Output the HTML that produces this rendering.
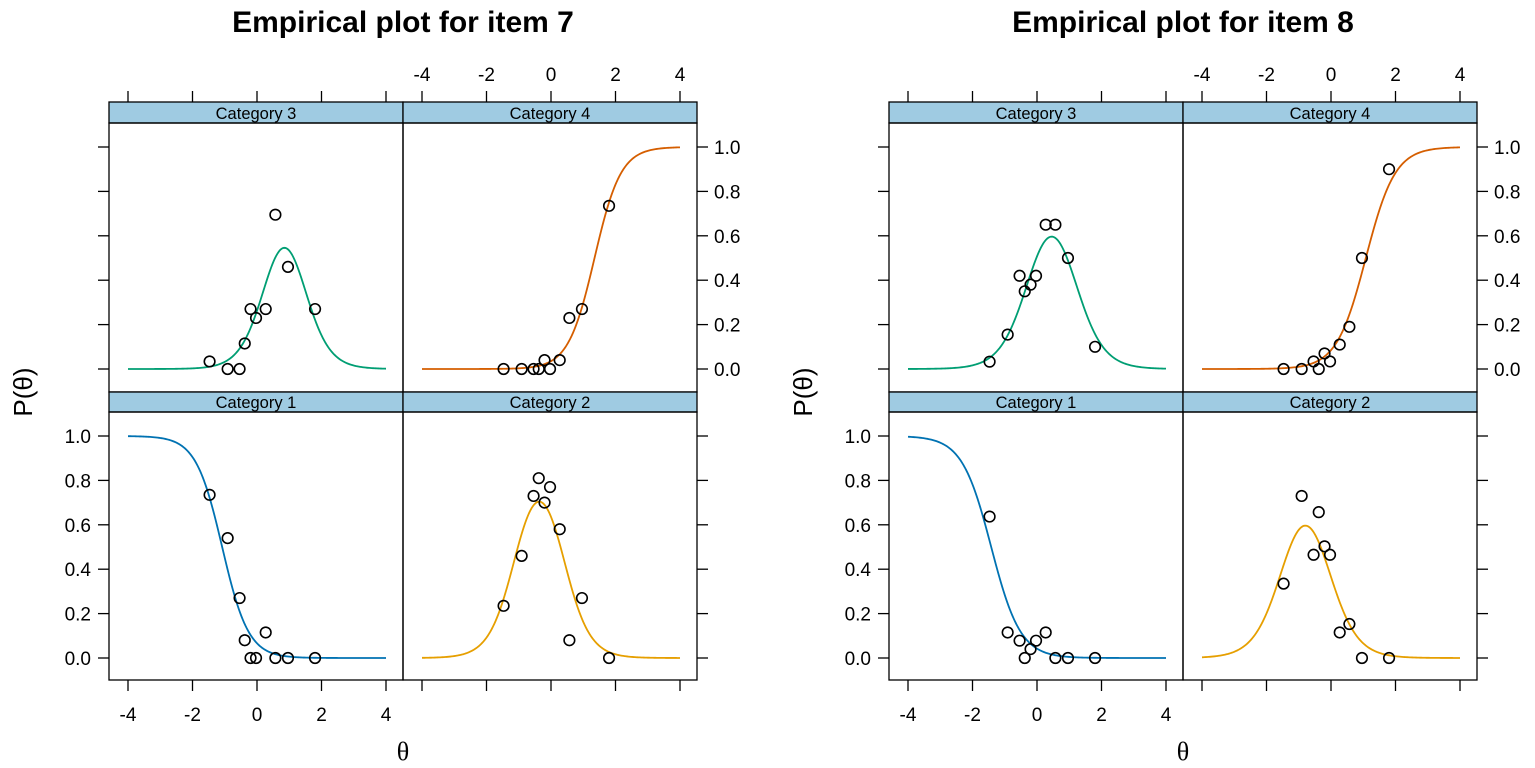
<!DOCTYPE html>
<html><head><meta charset="utf-8"><style>
html,body{margin:0;padding:0;background:#fff;}
svg{display:block;font-family:"Liberation Sans",Arial,sans-serif;}
</style></head><body>
<svg id="fig" width="1535" height="768" viewBox="0 0 1535 768" xmlns="http://www.w3.org/2000/svg"></svg>
<script>
const thetas = [-1.47,-0.91,-0.54,-0.38,-0.2,-0.03,0.27,0.57,0.96,1.8];
const item7Cat1 = [0.735,0.54,0.27,0.08,0,0,0.115,0,0,0];
const item7Cat2 = [0.235,0.46,0.73,0.81,0.70,0.77,0.58,0.08,0.27,0];
const item7Cat3 = [0.034,0,0,0.115,0.27,0.23,0.27,0.695,0.46,0.27];
const item7Cat4 = [0,0,0,0,0.04,0,0.04,0.23,0.27,0.735];
const item8Cat1 = [0.637,0.115,0.078,0,0.04,0.078,0.115,0,0,0];
const item8Cat2 = [0.335,0.73,0.465,0.657,0.503,0.465,0.115,0.153,0,0];
const item8Cat3 = [0.033,0.155,0.42,0.35,0.38,0.42,0.65,0.65,0.5,0.1];
const item8Cat4 = [0,0,0.034,0,0.07,0.034,0.11,0.19,0.5,0.9];
const item7Thresholds = [-1.08,0.35,1.35];
const item8Thresholds = [-1.42,-0.17,1.08];
const item7Slope = 2.45;
const item8Slope = 2.2;
const xTicks = [-4,-2,0,2,4];
const yTicks = [0,0.2,0.4,0.6,0.8,1.0];

const NS="http://www.w3.org/2000/svg";
const svg=document.getElementById('fig');
const colors={1:'#0072B2',2:'#E69F00',3:'#009E73',4:'#D55E00'};
function mk(tag,attrs,parent){const e=document.createElementNS(NS,tag);for(const k in attrs)e.setAttribute(k,attrs[k]);(parent||svg).appendChild(e);return e;}
function xScale(col,off,t){return off+128+col*294+(t+4)*32.25;}
function yScale(row,p){const y0=row===0?369:658;return y0-p*222;}
function logis(z){return 1/(1+Math.exp(-z));}
function catProb(k,t,a,b){const P=[1,logis(a*(t-b[0])),logis(a*(t-b[1])),logis(a*(t-b[2])),0];return P[k-1]-P[k];}

function drawChart(off,title,data,a,b,id){
  const g=mk('g',{});
  
  
  const tt=mk('text',{x:off+403,y:32,'text-anchor':'middle','font-size':'30','font-weight':'bold'},g);
  tt.textContent=title;
  
  
  const panels=[{k:3,col:0,row:0},{k:4,col:1,row:0},{k:1,col:0,row:1},{k:2,col:1,row:1}];
  panels.forEach(p=>{
    const px=off+109+p.col*294;
    const sy=p.row===0?102:392, sh=p.row===0?21:20, py=sy+sh, ph=p.row===0?269:268;
    const pg=mk('g',{},g);
    
    
    const st=mk('rect',{x:px,y:sy,width:294,height:sh,fill:'#9fcbe2',stroke:'#000','stroke-width':1.3},pg);
    
    
    const stx=mk('text',{x:px+147,y:sy+sh-4,'text-anchor':'middle','font-size':'16.5'},pg);
    stx.textContent='Category '+p.k;
    
    
    const bx=mk('rect',{x:px,y:py,width:294,height:ph,fill:'none',stroke:'#000','stroke-width':1.3},pg);
    
    
    let d='';
    for(let i=0;i<=200;i++){const t=-4+8*i/200;const v=catProb(p.k,t,a,b);d+=(i?'L':'M')+xScale(p.col,off,t).toFixed(2)+','+yScale(p.row,v).toFixed(2);}
    const ln=mk('path',{d:d,fill:'none',stroke:colors[p.k],'stroke-width':1.8},pg);
    
    
    const vals=data[p.k];
    thetas.forEach((t,i)=>{
      const c=mk('circle',{cx:xScale(p.col,off,t),cy:yScale(p.row,vals[i]),r:5.3,fill:'none',stroke:'#000','stroke-width':1.6},pg);
      
      
    });
  });
  xTicks.forEach(t=>{
    for(let col=0;col<2;col++){
      const x=xScale(col,off,t);
      const tk=mk('line',{x1:x,x2:x,y1:91,y2:102,stroke:'#000','stroke-width':1.3},g);
      
      
      const tb=mk('line',{x1:x,x2:x,y1:680,y2:691,stroke:'#000','stroke-width':1.3},g);
      
      
    }
    const lt=mk('text',{x:xScale(1,off,t),y:81,'text-anchor':'middle','font-size':'19'},g);
    lt.textContent=String(t);
    
    
    const lb=mk('text',{x:xScale(0,off,t),y:721,'text-anchor':'middle','font-size':'19'},g);
    lb.textContent=String(t);
    
    
  });
  yTicks.forEach(v=>{
    for(let row=0;row<2;row++){
      const y=yScale(row,v);
      const tl=mk('line',{x1:off+98,x2:off+109,y1:y,y2:y,stroke:'#000','stroke-width':1.3},g);
      
      
      const tr=mk('line',{x1:off+697,x2:off+708,y1:y,y2:y,stroke:'#000','stroke-width':1.3},g);
      
      
    }
    const ll=mk('text',{x:off+91,y:yScale(1,v)+7,'text-anchor':'end','font-size':'19'},g);
    ll.textContent=v.toFixed(1);
    
    
    const lr=mk('text',{x:off+714,y:yScale(0,v)+7,'text-anchor':'start','font-size':'19'},g);
    lr.textContent=v.toFixed(1);
    
    
  });
  const xl=mk('text',{x:off+403,y:760,'text-anchor':'middle','font-size':'26','font-family':'Liberation Serif,serif'},g);
  xl.textContent='θ';
  
  
  const yl=mk('text',{x:off+32,y:392,'text-anchor':'middle','font-size':'26',transform:'rotate(-90 '+(off+32)+' 392)'},g);
  yl.textContent='P(θ)';
  
  
}
drawChart(0,'Empirical plot for item 7',{1:item7Cat1,2:item7Cat2,3:item7Cat3,4:item7Cat4},item7Slope,item7Thresholds,'item-7-chart');
drawChart(780,'Empirical plot for item 8',{1:item8Cat1,2:item8Cat2,3:item8Cat3,4:item8Cat4},item8Slope,item8Thresholds,'item-8-chart');
</script>
</body></html>
